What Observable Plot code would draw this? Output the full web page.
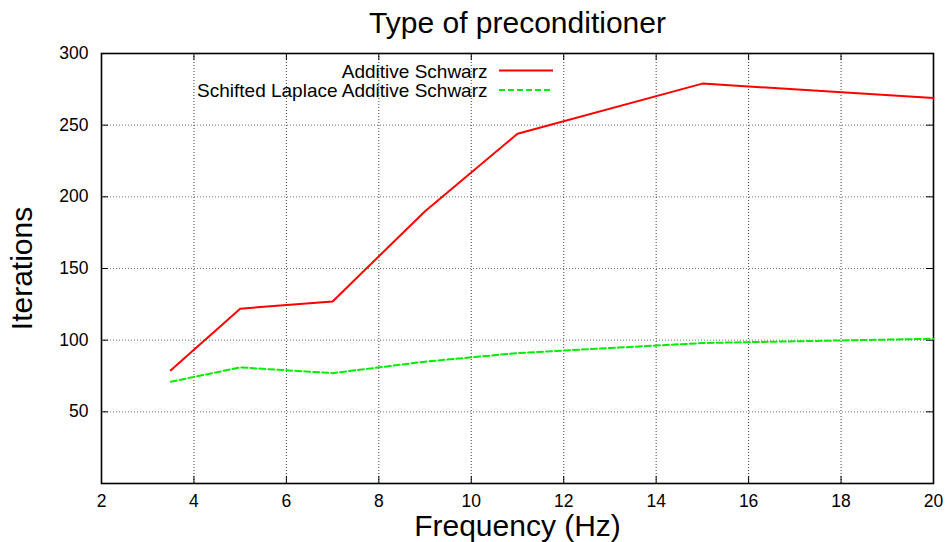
<!DOCTYPE html>
<html><head><meta charset="utf-8">
<script src="https://cdn.jsdelivr.net/npm/d3@7"></script>
<script src="https://cdn.jsdelivr.net/npm/@observablehq/plot@0.6"></script>
<style>
body{margin:0;background:#fff;}
#wrap{position:relative;width:947px;height:542px;font-family:"Liberation Sans",Arial,Helvetica,sans-serif;}
#legend{position:absolute;left:0;top:0;width:947px;height:120px;pointer-events:none;}
</style></head><body><div id="wrap"></div>
<script>
const freq = [3.5, 5, 7, 9, 11, 15, 20];
const additive = [79, 122, 127, 190, 244, 279, 269];
const shifted = [71, 81, 77, 85, 91, 98, 101];
const seriesNames = ["Additive Schwarz", "Schifted Laplace Additive Schwarz"];
const xTicks = [2, 4, 6, 8, 10, 12, 14, 16, 18, 20];
const yTicks = [50, 100, 150, 200, 250, 300];
const titleText = "Type of preconditioner";
const xLabel = "Frequency (Hz)";
const yLabel = "Iterations";

const W = 947, H = 542, mL = 101, mR = 14, mT = 53, mB = 59;
const pw = W - mL - mR, ph = H - mT - mB;
const font = "'Liberation Sans', Arial, Helvetica, sans-serif";

const addData = freq.map((f, i) => ({f, v: additive[i]}));
const shiftData = freq.map((f, i) => ({f, v: shifted[i]}));

const chart = Plot.plot({
  width: W, height: H,
  marginLeft: mL, marginRight: mR, marginTop: mT, marginBottom: mB,
  style: {fontFamily: font, fontSize: "17.5px", color: "#000", background: "#fff", overflow: "visible"},
  x: {domain: [2, 20]},
  y: {domain: [0, 300]},
  marks: [
    Plot.ruleX(xTicks.slice(1, -1), {x: d => d, stroke: "#000", strokeOpacity: 0.75, strokeDasharray: "1,2"}),
    Plot.ruleY(yTicks.slice(0, -1), {y: d => d, stroke: "#000", strokeOpacity: 0.55, strokeDasharray: "1,2"}),
    Plot.tickX(xTicks, {x: d => d, insetTop: ph - 7, stroke: "#000"}),
    Plot.tickX(xTicks, {x: d => d, insetBottom: ph - 7, stroke: "#000"}),
    Plot.tickY(yTicks, {y: d => d, insetRight: pw - 7, stroke: "#000"}),
    Plot.tickY(yTicks, {y: d => d, insetLeft: pw - 7, stroke: "#000"}),
    Plot.frame({stroke: "#000", strokeWidth: 1.6}),
    Plot.axisX(xTicks, {tickSize: 0, tickPadding: 11, fontSize: 17.5, label: null, tickFormat: d => String(d)}),
    Plot.axisY(yTicks, {tickSize: 0, tickPadding: 13, fontSize: 17.5, label: null, tickFormat: d => String(d)}),
    Plot.line(addData, {x: "f", y: "v", stroke: "#ff0000", strokeWidth: 2}),
    Plot.line(shiftData, {x: "f", y: "v", stroke: "#00ee00", strokeWidth: 2, strokeDasharray: "6,3"}),
    Plot.text([titleText], {text: d => d, frameAnchor: "top", lineAnchor: "middle", dy: -30, fontSize: 30}),
    Plot.text([xLabel], {text: d => d, frameAnchor: "bottom", lineAnchor: "middle", textAnchor: "middle", dy: 43, fontSize: 30}),
    Plot.text([yLabel], {text: d => d, frameAnchor: "left", lineAnchor: "middle", textAnchor: "middle", dx: -79, rotate: -90, fontSize: 30}),
    Plot.text([seriesNames[0]], {text: d => d, frameAnchor: "top-left", lineAnchor: "middle", dx: 386, dy: 18, textAnchor: "end", fontSize: 19}),
    Plot.text([seriesNames[1]], {text: d => d, frameAnchor: "top-left", lineAnchor: "middle", dx: 386, dy: 37, textAnchor: "end", fontSize: 19})
  ]
});
const wrap = document.getElementById("wrap");
wrap.appendChild(chart);

// legend swatches
const ns = "http://www.w3.org/2000/svg";
const leg = document.createElementNS(ns, "svg");
leg.setAttribute("id", "legend");
leg.setAttribute("width", 947); leg.setAttribute("height", 120);
const sw = [
  {y: 70.5, stroke: "#ff0000", dash: null},
  {y: 90, stroke: "#00ee00", dash: "6,3"}
];
sw.forEach(s => {
  const l = document.createElementNS(ns, "line");
  l.setAttribute("x1", 499); l.setAttribute("x2", 553);
  l.setAttribute("y1", s.y); l.setAttribute("y2", s.y);
  l.setAttribute("stroke", s.stroke); l.setAttribute("stroke-width", 2);
  if (s.dash) l.setAttribute("stroke-dasharray", s.dash);
  leg.appendChild(l);
});
wrap.appendChild(leg);
</script></body></html>
